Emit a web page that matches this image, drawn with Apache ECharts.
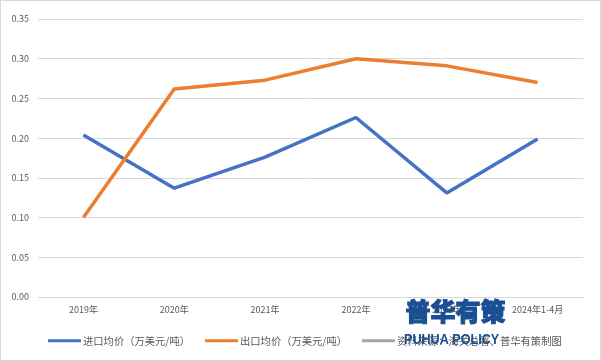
<!DOCTYPE html>
<html><head><meta charset="utf-8">
<script src="https://cdn.jsdelivr.net/npm/echarts@6/dist/echarts.min.js"></script>
<style>html,body{margin:0;padding:0;background:#fff}#c{width:599px;height:359px;border:1px solid #d9d9d9}</style>
</head><body><div id="c"></div>
<script>
const categories = ['2019年','2020年','2021年','2022年','2023年','2024年1-4月'];
const importPrice = [0.204, 0.137, 0.176, 0.226, 0.131, 0.199];
const exportPrice = [0.100, 0.262, 0.273, 0.300, 0.291, 0.270];
const seriesNames = ['进口均价（万美元/吨）','出口均价（万美元/吨）','资料来源：海关总署、普华有策制图'];
const yTicks = {min:0, max:0.35, interval:0.05};
const font = '"Noto Sans CJK SC", sans-serif';
const chart = echarts.init(document.getElementById('c'));
const legendBase = {bottom: 14, padding: 0, icon: 'rect', itemWidth: 33, itemHeight: 3, itemGap: 4,
  textStyle: {color: '#595959', fontSize: 10.3, fontFamily: font, padding: [0, 0, 0, -3]}};
chart.setOption({
  animation: false,
  color: ['#4472C4','#ED7D31','#A5A5A5'],
  grid: {left: 37, right: 17, top: 18, bottom: 63},
  legend: [
    Object.assign({left: 47, data: [seriesNames[0]]}, legendBase),
    Object.assign({left: 204, data: [seriesNames[1]]}, legendBase),
    Object.assign({left: 361, data: [seriesNames[2]]}, legendBase)
  ],
  xAxis: {type: 'category', data: categories, boundaryGap: true,
    axisLine: {lineStyle: {color: '#d9d9d9'}}, axisTick: {show: false},
    axisLabel: {color: '#595959', fontSize: 9, fontFamily: font, margin: 8}},
  yAxis: {type: 'value', min: yTicks.min, max: yTicks.max, interval: yTicks.interval,
    axisLine: {show: false}, axisTick: {show: false},
    splitLine: {lineStyle: {color: '#d9d9d9'}},
    axisLabel: {color: '#595959', fontSize: 9, fontFamily: font, margin: 9,
      formatter: v => v.toFixed(2)}},
  series: [
    {name: seriesNames[0], type: 'line', data: importPrice, symbol: 'none', lineStyle: {width: 3.5}},
    {name: seriesNames[1], type: 'line', data: exportPrice, symbol: 'none', lineStyle: {width: 3.5}},
    {name: seriesNames[2], type: 'line', data: [], symbol: 'none', lineStyle: {width: 3.5}}
  ],
  graphic: [
    {type: 'text', left: 404, top: 297, z: 100, style: {text: '普华有策', fill: '#1B4F93', stroke: '#1B4F93', lineWidth: 1, font: '900 25px "Noto Sans CJK SC"'}},
    {type: 'text', x: 403, y: 331, scaleX: 0.84, z: 100, style: {text: 'PUHUA POLICY', fill: '#1B4F93', font: 'bold 15px "Liberation Sans", Arial'}}
  ]
});
</script></body></html>
